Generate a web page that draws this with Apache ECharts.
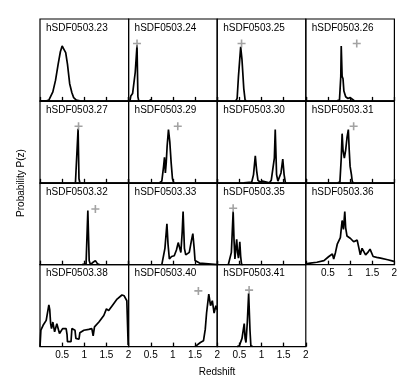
<!DOCTYPE html>
<html>
<head>
<meta charset="utf-8">
<script src="https://cdn.jsdelivr.net/npm/echarts@6/dist/echarts.min.js"></script>
<style>
    html, body { margin: 0; padding: 0; background: #fff; }
    #chart { width: 415px; height: 387px; }
</style>
</head>
<body>
<div id="chart"></div>
<script>
    // panel names, in reading order
    const names = ['hSDF0503.23', 'hSDF0503.24', 'hSDF0503.25', 'hSDF0503.26',
                   'hSDF0503.27', 'hSDF0503.29', 'hSDF0503.30', 'hSDF0503.31',
                   'hSDF0503.32', 'hSDF0503.33', 'hSDF0503.35', 'hSDF0503.36',
                   'hSDF0503.38', 'hSDF0503.40', 'hSDF0503.41'];

    // P(z) curves, [redshift, probability]
    const pz23 = [[0,0],[0.15,0],[0.2,0.01],[0.29,0.11],[0.35,0.25],[0.41,0.45],[0.46,0.6],[0.5,0.67],[0.54,0.63],[0.58,0.59],[0.62,0.45],[0.67,0.21],[0.72,0.1],[0.76,0.04],[0.82,0.01],[0.9,0]];
    const pz24 = [[0.03,0],[0.05,0.06],[0.09,0.09],[0.12,0.1],[0.15,0.35],[0.19,0.68],[0.21,0.05],[0.23,0],[0.48,0],[0.5,0.02],[0.52,0]];
    const pz25 = [[0.42,0],[0.45,0.03],[0.48,0.3],[0.53,0.66],[0.56,0.5],[0.6,0.15],[0.63,0.01],[0.66,0]];
    const pz26 = [[0.7,0],[0.76,0.01],[0.79,0.3],[0.8,0.67],[0.82,0.3],[0.84,0.27],[0.86,0.12],[0.9,0.05],[0.95,0.03],[1.0,0.04],[1.05,0.02],[1.1,0]];
    const pz27 = [[0.8,0],[0.83,0.02],[0.86,0.66],[0.88,0.05],[0.9,0]];
    const pz29 = [[0.7,0],[0.75,0.02],[0.79,0.2],[0.81,0.31],[0.83,0.12],[0.85,0.25],[0.87,0.45],[0.9,0.65],[0.93,0.5],[0.96,0.25],[0.99,0.05],[1.02,0]];
    const pz30 = [[0.6,0],[0.78,0.01],[0.82,0.1],[0.86,0.33],[0.89,0.15],[0.92,0.03],[0.97,0.01],[1.02,0.02],[1.05,0],[1.18,0],[1.22,0.03],[1.26,0.05],[1.29,0.3],[1.31,0.65],[1.34,0.1],[1.37,0.02],[1.4,0.01],[1.44,0.12],[1.48,0.29],[1.51,0.1],[1.54,0],[1.57,0]];
    const pz31 = [[0.72,0],[0.77,0.01],[0.8,0.3],[0.82,0.6],[0.84,0.4],[0.87,0.3],[0.9,0.4],[0.93,0.55],[0.96,0.65],[0.98,0.4],[1.0,0.2],[1.03,0.1],[1.05,0.01],[1.08,0]];
    const pz32 = [[0.95,0],[1.04,0.01],[1.08,0.66],[1.11,0.05],[1.14,0],[1.2,0.03],[1.25,0.05],[1.3,0.01],[1.35,0]];
    const pz33 = [[0.75,0],[0.79,0.02],[0.82,0.2],[0.865,0.5],[0.89,0.25],[0.92,0.07],[0.97,0.1],[1.03,0.11],[1.08,0.18],[1.12,0.27],[1.146,0.29],[1.18,0.15],[1.21,0.4],[1.23,0.65],[1.26,0.2],[1.29,0.12],[1.33,0.14],[1.37,0.15],[1.42,0.3],[1.45,0.38],[1.48,0.2],[1.5,0.05],[1.6,0.02],[1.8,0.01],[2,0]];
    const pz35 = [[0.25,0],[0.29,0.02],[0.32,0.15],[0.36,0.65],[0.38,0.3],[0.4,0.07],[0.42,0.2],[0.44,0.31],[0.46,0.15],[0.48,0.08],[0.5,0.2],[0.51,0.28],[0.53,0.1],[0.55,0],[0.58,0]];
    const pz36 = [[0,0.01],[0.1,0.02],[0.25,0.03],[0.41,0.05],[0.52,0.1],[0.6,0.13],[0.63,0.07],[0.67,0.15],[0.71,0.25],[0.78,0.33],[0.82,0.54],[0.85,0.43],[0.88,0.65],[0.9,0.45],[0.93,0.35],[1.01,0.32],[1.08,0.28],[1.16,0.3],[1.2,0.2],[1.23,0.12],[1.27,0.2],[1.31,0.16],[1.35,0.12],[1.4,0.15],[1.45,0.19],[1.52,0.1],[1.6,0.09],[1.69,0.08],[1.85,0.06],[1.99,0.04]];
    const pz38 = [[0,0],[0.02,0.2],[0.07,0.26],[0.14,0.32],[0.2,0.51],[0.22,0.45],[0.24,0.28],[0.26,0.22],[0.29,0.3],[0.33,0.18],[0.38,0.28],[0.44,0.16],[0.51,0.22],[0.59,0.22],[0.61,0.15],[0.62,0.06],[0.7,0.06],[0.72,0.22],[0.79,0.2],[0.81,0.1],[0.83,0.08],[0.88,0.09],[0.9,0.17],[0.99,0.2],[1.1,0.21],[1.17,0.22],[1.2,0.13],[1.23,0.24],[1.33,0.3],[1.44,0.38],[1.5,0.46],[1.55,0.44],[1.63,0.5],[1.74,0.58],[1.85,0.63],[1.9,0.62],[1.96,0.56],[1.99,0.02]];
    const pz40 = [[1.5,0],[1.54,0.02],[1.62,0.05],[1.69,0.07],[1.73,0.21],[1.76,0.41],[1.81,0.64],[1.85,0.5],[1.89,0.56],[1.93,0.41],[1.97,0.5],[2,0.45]];
    const pz41 = [[0.45,0],[0.5,0.01],[0.56,0.1],[0.61,0.28],[0.63,0.1],[0.65,0.05],[0.68,0.3],[0.71,0.65],[0.74,0.2],[0.76,0.01],[0.8,0]];

    const curves = [pz23, pz24, pz25, pz26, pz27, pz29, pz30, pz31, pz32, pz33, pz35, pz36, pz38, pz40, pz41];

    // spectroscopic redshift markers (+), null where none
    const specZ = [null, [0.19,0.70], [0.55,0.70], [1.15,0.70],
                   [0.87,0.69], [1.11,0.69], null, [1.08,0.69],
                   [1.25,0.68], null, [0.36,0.69], null,
                   null, [1.575,0.68], [0.72,0.69]];

    const xTicks = [0, 0.5, 1, 1.5, 2];

    // panels that carry tick labels
    const labelled = [11, 12, 13, 14];

    const chart = echarts.init(document.getElementById('chart'));

    const left0 = 40, top0 = 19, cellW = 88.6, cellH = 81.9;
    const plus = 'path://M4,0H6V4H10V6H6V10H4V6H0V4H4Z';

    let option = {
        animation: false,
        textStyle: { fontFamily: 'Liberation Sans, Arial, sans-serif' },
        title: [],
        grid: [],
        xAxis: [],
        yAxis: [],
        series: [],
        graphic: [
            {
                type: 'text',
                x: 21, y: 183,
                rotation: Math.PI / 2,
                style: {
                    text: 'Probability P(z)',
                    fontSize: 10,
                    fontFamily: 'Liberation Sans',
                    fill: '#000',
                    align: 'center',
                    verticalAlign: 'middle'
                }
            },
            {
                type: 'text',
                x: 217, y: 372,
                style: {
                    text: 'Redshift',
                    fontSize: 10,
                    fontFamily: 'Liberation Sans',
                    fill: '#000',
                    align: 'center',
                    verticalAlign: 'middle'
                }
            }
        ]
    };

    for (let i = 0; i < curves.length; i++) {
        let col = i % 4;
        let row = Math.floor(i / 4);
        let x = left0 + col * cellW;
        let y = top0 + row * cellH;

        option.grid.push({
            left: x, top: y, width: cellW, height: cellH,
            show: true,
            borderColor: '#000',
            borderWidth: 1.2,
            backgroundColor: 'transparent'
        });

        option.title.push({
            text: names[i],
            left: x + 6,
            top: y + 4,
            padding: 0,
            textStyle: { fontSize: 10, fontWeight: 'normal', color: '#000', fontFamily: 'Liberation Sans' }
        });

        let showLabel = labelled.indexOf(i) !== -1;

        option.xAxis.push({
            gridIndex: i,
            type: 'value',
            min: xTicks[0],
            max: xTicks[xTicks.length - 1],
            interval: 0.5,
            axisLine: { show: true, onZero: false, lineStyle: { color: '#000', width: 1.2 } },
            axisTick: { show: true, inside: true, length: 4, lineStyle: { color: '#000', width: 1.3 } },
            splitLine: { show: false },
            axisLabel: {
                show: showLabel,
                color: '#000',
                fontSize: 10,
                margin: 4,
                fontFamily: 'Liberation Sans',
                showMinLabel: false,
                formatter: (v) => v === 0 ? '' : String(v)
            },
            z: 5
        });

        option.yAxis.push({
            gridIndex: i,
            type: 'value',
            min: 0,
            max: 1,
            show: false
        });

        option.series.push({
            type: 'line',
            xAxisIndex: i,
            yAxisIndex: i,
            data: curves[i],
            showSymbol: false,
            lineStyle: { color: '#000', width: 1.7 },
            z: 3
        });

        if (specZ[i]) {
            option.series.push({
                type: 'scatter',
                xAxisIndex: i,
                yAxisIndex: i,
                data: [specZ[i]],
                symbol: plus,
                symbolSize: 8,
                itemStyle: { color: '#8c8c8c' },
                z: 4
            });
        }
    }

    chart.setOption(option);
</script>
</body>
</html>
